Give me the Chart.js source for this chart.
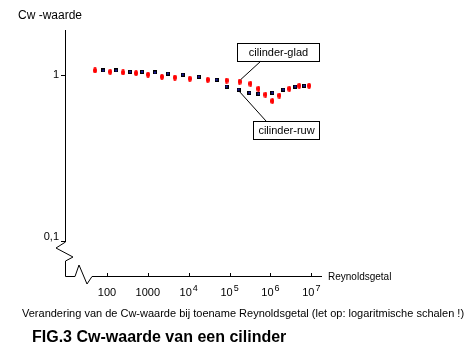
<!DOCTYPE html>
<html>
<head>
<meta charset="utf-8">
<script src="https://cdn.jsdelivr.net/npm/chart.js@4/dist/chart.umd.min.js"></script>
<style>
  html, body { margin: 0; padding: 0; background: #fff; }
  canvas { display: block; }
</style>
</head>
<body>
<canvas id="cwChart" width="472" height="347"></canvas>
<script>
// Reynolds numbers and drag coefficients, smooth cylinder
const reGlad = [51, 120, 248, 515, 1010, 2210, 4580, 10600, 29100, 84300, 175000, 324000, 506000, 750000, 1110000, 1640000, 2880000, 5040000, 8810000];
const cwGlad = [1.07, 1.05, 1.04, 1.03, 1.01, 0.98, 0.97, 0.955, 0.94, 0.93, 0.915, 0.89, 0.83, 0.765, 0.70, 0.755, 0.83, 0.865, 0.865];

// rough cylinder
const reRuw = [81, 168, 368, 721, 1490, 3090, 7160, 17600, 48100, 84300, 165000, 305000, 506000, 1110000, 2060000, 4030000, 6670000];
const cwRuw = [1.07, 1.07, 1.05, 1.05, 1.04, 1.025, 1.01, 0.98, 0.94, 0.855, 0.82, 0.785, 0.775, 0.785, 0.82, 0.855, 0.865];

const xTickValues = [100, 1000, 1e4, 1e5, 1e6, 1e7];
const xTickBases = ['100', '1000', '10', '10', '10', '10'];
const xTickExps = ['', '', '4', '5', '6', '7'];
const yTickValues = [1, 0.1];
const yTickLabels = ['1', '0,1'];

const FONT = '"Liberation Sans", Arial, sans-serif';

function makeMarker(w, h, drawFn) {
  const c = document.createElement('canvas');
  c.width = w;
  c.height = h;
  drawFn(c.getContext('2d'), w, h);
  return c;
}

const redMarker = makeMarker(4, 6, (g, w, h) => {
  g.fillStyle = '#ff0000';
  g.beginPath();
  g.ellipse(w / 2, h / 2, w / 2, h / 2, 0, 0, Math.PI * 2);
  g.fill();
});

const blueMarker = makeMarker(4, 4, (g, w, h) => {
  g.fillStyle = '#000000';
  g.fillRect(0, 0, w, h);
  g.fillStyle = '#1a1aa0';
  g.fillRect(1, 1, w - 2, h - 2);
});

function toPoints(xs, ys) {
  return xs.map((x, i) => ({ x: x, y: ys[i] }));
}

// axes with broken-axis zigzags, tick marks and all text
const axesPlugin = {
  id: 'axesPlugin',
  beforeDatasetsDraw(chart) {
    const ctx = chart.ctx;
    const xs = chart.scales.x;
    const ys = chart.scales.y;
    const area = chart.chartArea;
    const left = area.left;
    const bottom = area.bottom;
    const yLow = ys.getPixelForValue(0.1);

    ctx.save();
    ctx.strokeStyle = '#000';
    ctx.lineWidth = 1;

    // y axis with break
    ctx.beginPath();
    ctx.moveTo(left + 0.5, area.top);
    ctx.lineTo(left + 0.5, yLow + 1);
    ctx.lineTo(left - 9, yLow + 7);
    ctx.lineTo(left + 8, yLow + 16);
    ctx.lineTo(left + 0.5, yLow + 20);
    ctx.lineTo(left + 0.5, bottom + 0.5);
    // x axis with break
    ctx.lineTo(left + 10, bottom + 0.5);
    ctx.lineTo(left + 14, bottom - 11);
    ctx.lineTo(left + 22, bottom + 8);
    ctx.lineTo(left + 27, bottom + 0.5);
    ctx.lineTo(area.right, bottom + 0.5);
    ctx.stroke();

    // x ticks point up into the plot
    ctx.beginPath();
    xTickValues.forEach(v => {
      const px = Math.round(xs.getPixelForValue(v)) + 0.5;
      ctx.moveTo(px, bottom);
      ctx.lineTo(px, bottom - 3);
    });
    // y ticks point left
    yTickValues.forEach(v => {
      const py = Math.round(ys.getPixelForValue(v)) + 0.5;
      ctx.moveTo(left, py);
      ctx.lineTo(left - 4, py);
    });
    ctx.stroke();
    ctx.restore();
  },
  afterDraw(chart) {
    const ctx = chart.ctx;
    const xs = chart.scales.x;
    const ys = chart.scales.y;
    const area = chart.chartArea;

    ctx.save();
    ctx.fillStyle = '#000';
    ctx.textBaseline = 'alphabetic';

    // x tick labels with raised exponents
    xTickValues.forEach((v, i) => {
      const px = xs.getPixelForValue(v);
      ctx.font = '11px ' + FONT;
      const wb = ctx.measureText(xTickBases[i]).width;
      ctx.font = '9px ' + FONT;
      const we = xTickExps[i] ? ctx.measureText(xTickExps[i]).width + 1 : 0;
      const x0 = px - (wb + we) / 2;
      ctx.font = '11px ' + FONT;
      ctx.textAlign = 'left';
      ctx.fillText(xTickBases[i], x0, area.bottom + 20);
      if (xTickExps[i]) {
        ctx.font = '9px ' + FONT;
        ctx.fillText(xTickExps[i], x0 + wb + 1, area.bottom + 15);
      }
    });

    // y tick labels
    ctx.font = '11px ' + FONT;
    ctx.textAlign = 'right';
    ctx.textBaseline = 'middle';
    yTickValues.forEach((v, i) => {
      const py = ys.getPixelForValue(v);
      ctx.fillText(yTickLabels[i], area.left - 6, py - (v < 1 ? 4 : 0));
    });

    // axis titles
    ctx.textAlign = 'left';
    ctx.textBaseline = 'alphabetic';
    ctx.font = '12px ' + FONT;
    ctx.fillText('Cw -waarde', 18, 19);
    ctx.font = '10px ' + FONT;
    ctx.fillText('Reynoldsgetal', area.right + 6, area.bottom + 4);

    // callouts for the two series
    const callouts = [
      { text: 'cilinder-glad', box: [237, 43, 82, 18], from: [261, 61], re: reGlad[10], cw: cwGlad[10], dy: -2 },
      { text: 'cilinder-ruw', box: [253, 121, 66, 18], from: [266, 121], re: reRuw[10], cw: cwRuw[10], dy: 2 }
    ];
    ctx.font = '11px ' + FONT;
    ctx.lineWidth = 1;
    ctx.strokeStyle = '#000';
    callouts.forEach(c => {
      const [bx, by, bw, bh] = c.box;
      ctx.fillStyle = '#fff';
      ctx.fillRect(bx, by, bw, bh);
      ctx.strokeRect(bx + 0.5, by + 0.5, bw, bh);
      ctx.fillStyle = '#000';
      ctx.textAlign = 'center';
      ctx.textBaseline = 'middle';
      ctx.fillText(c.text, bx + bw / 2 + 0.5, by + bh / 2 + 1);
      const tx = xs.getPixelForValue(c.re) + 1;
      const ty = ys.getPixelForValue(c.cw) + c.dy;
      ctx.beginPath();
      ctx.moveTo(c.from[0], c.from[1]);
      ctx.lineTo(tx, ty);
      ctx.stroke();
    });

    // captions under the chart
    ctx.textAlign = 'left';
    ctx.textBaseline = 'alphabetic';
    ctx.font = '11px ' + FONT;
    ctx.fillText('Verandering van de Cw-waarde bij toename Reynoldsgetal (let op: logaritmische schalen !)', 22, 317);
    ctx.font = 'bold 16px ' + FONT;
    ctx.fillText('FIG.3 Cw-waarde van een cilinder', 32, 342);
    ctx.restore();
  }
};

new Chart(document.getElementById('cwChart'), {
  type: 'scatter',
  data: {
    datasets: [
      {
        label: 'cilinder-glad',
        data: toPoints(reGlad, cwGlad),
        pointStyle: redMarker,
        pointRadius: 3
      },
      {
        label: 'cilinder-ruw',
        data: toPoints(reRuw, cwRuw),
        pointStyle: blueMarker,
        pointRadius: 2
      }
    ]
  },
  options: {
    responsive: false,
    devicePixelRatio: 1,
    animation: false,
    layout: { padding: { left: 65, right: 150, top: 30, bottom: 71 } },
    plugins: {
      legend: { display: false },
      tooltip: { enabled: false }
    },
    scales: {
      x: { type: 'logarithmic', min: 9.4, max: 1.82e7, display: false },
      y: { type: 'logarithmic', min: 0.0615, max: 1.877, display: false }
    }
  },
  plugins: [axesPlugin]
});
</script>
</body>
</html>
